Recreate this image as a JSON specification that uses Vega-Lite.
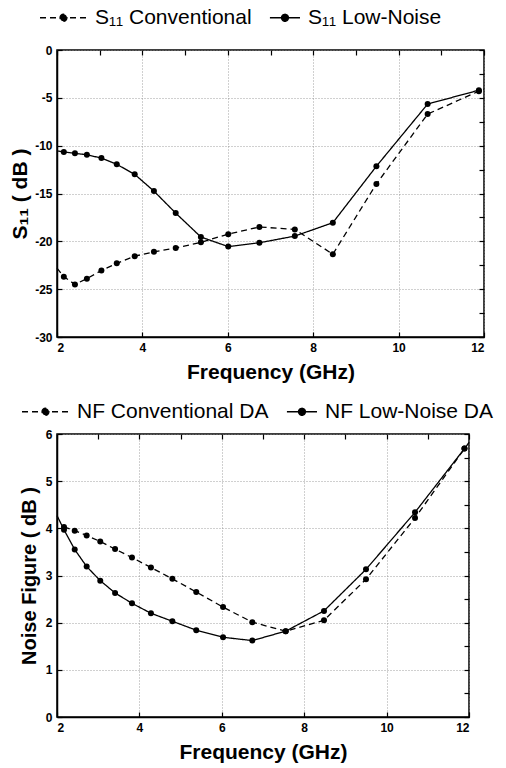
{
  "$schema": "https://vega.github.io/schema/vega-lite/v6.json",
  "background": "white",
  "padding": {"left": 8, "top": 6, "right": 5, "bottom": 5},
  "spacing": 17,
  "resolve": {"scale": {"strokeDash": "independent"}, "legend": {"strokeDash": "independent"}},
  "config": {
    "font": "Liberation Sans",
    "view": {"stroke": "black", "strokeWidth": 1.5},
    "axis": {
      "labelFont": "Liberation Sans", "labelFontWeight": "bold", "labelFontSize": 12, "labelColor": "black",
      "titleFont": "Liberation Sans", "titleFontWeight": "bold", "titleFontSize": 21, "titleColor": "black",
      "domainColor": "black", "domainWidth": 1.5, "tickColor": "black", "tickWidth": 1.2, "tickSize": -5,
      "labelPadding": 10, "gridColor": "#888888", "gridDash": [1, 2], "gridWidth": 0.8
    },
    "legend": {
      "orient": "none", "direction": "horizontal", "title": null,
      "labelFont": "Liberation Sans", "labelFontSize": 20, "labelColor": "black", "labelLimit": 400,
      "symbolType": "M-2.5,0L2.5,0M-0.37,0A0.37,0.37,0,1,1,0.37,0A0.37,0.37,0,1,1,-0.37,0Z",
      "symbolSize": 353, "symbolStrokeWidth": 1.3, "symbolStrokeColor": "black", "symbolFillColor": "black",
      "columnPadding": 10, "labelOffset": 21
    }
  },
  "vconcat": [
    {
      "width": 427, "height": 287,
      "data": {"values": [
        {"f": 2.0, "v": -22.8, "series": "S₁₁ Conventional"},
        {"f": 2.16, "v": -23.7, "series": "S₁₁ Conventional"},
        {"f": 2.42, "v": -24.5, "series": "S₁₁ Conventional"},
        {"f": 2.70, "v": -23.9, "series": "S₁₁ Conventional"},
        {"f": 3.04, "v": -23.05, "series": "S₁₁ Conventional"},
        {"f": 3.40, "v": -22.3, "series": "S₁₁ Conventional"},
        {"f": 3.82, "v": -21.55, "series": "S₁₁ Conventional"},
        {"f": 4.27, "v": -21.1, "series": "S₁₁ Conventional"},
        {"f": 4.78, "v": -20.7, "series": "S₁₁ Conventional"},
        {"f": 5.37, "v": -20.1, "series": "S₁₁ Conventional"},
        {"f": 6.01, "v": -19.25, "series": "S₁₁ Conventional"},
        {"f": 6.74, "v": -18.5, "series": "S₁₁ Conventional"},
        {"f": 7.57, "v": -18.75, "series": "S₁₁ Conventional"},
        {"f": 8.46, "v": -21.35, "series": "S₁₁ Conventional"},
        {"f": 9.48, "v": -14.0, "series": "S₁₁ Conventional"},
        {"f": 10.68, "v": -6.7, "series": "S₁₁ Conventional"},
        {"f": 11.88, "v": -4.3, "series": "S₁₁ Conventional"},
        {"f": 12.0, "v": -4.1, "series": "S₁₁ Conventional"},
        {"f": 2.0, "v": -10.55, "series": "S₁₁ Low-Noise"},
        {"f": 2.16, "v": -10.65, "series": "S₁₁ Low-Noise"},
        {"f": 2.42, "v": -10.8, "series": "S₁₁ Low-Noise"},
        {"f": 2.70, "v": -10.95, "series": "S₁₁ Low-Noise"},
        {"f": 3.04, "v": -11.3, "series": "S₁₁ Low-Noise"},
        {"f": 3.40, "v": -11.95, "series": "S₁₁ Low-Noise"},
        {"f": 3.82, "v": -13.0, "series": "S₁₁ Low-Noise"},
        {"f": 4.27, "v": -14.75, "series": "S₁₁ Low-Noise"},
        {"f": 4.78, "v": -17.05, "series": "S₁₁ Low-Noise"},
        {"f": 5.37, "v": -19.55, "series": "S₁₁ Low-Noise"},
        {"f": 6.01, "v": -20.55, "series": "S₁₁ Low-Noise"},
        {"f": 6.74, "v": -20.15, "series": "S₁₁ Low-Noise"},
        {"f": 7.57, "v": -19.45, "series": "S₁₁ Low-Noise"},
        {"f": 8.46, "v": -18.05, "series": "S₁₁ Low-Noise"},
        {"f": 9.48, "v": -12.15, "series": "S₁₁ Low-Noise"},
        {"f": 10.68, "v": -5.65, "series": "S₁₁ Low-Noise"},
        {"f": 11.88, "v": -4.2, "series": "S₁₁ Low-Noise"}
      ]},
      "layer": [
        {
          "mark": {"type": "line", "color": "black", "strokeWidth": 1.3},
          "encoding": {
            "x": {"field": "f", "type": "quantitative", "scale": {"domain": [2, 12], "nice": false},
                  "axis": {"title": "Frequency (GHz)", "values": [2, 4, 6, 8, 10, 12], "grid": true, "titlePadding": 8}},
            "y": {"field": "v", "type": "quantitative", "scale": {"domain": [-30, 0], "nice": false},
                  "axis": {"title": "S₁₁ ( dB )", "values": [-30, -25, -20, -15, -10, -5, 0], "grid": true, "labelExpr": "toString(datum.value)", "titlePadding": 4}},
            "strokeDash": {"field": "series", "type": "nominal",
                  "scale": {"domain": ["S₁₁ Conventional", "S₁₁ Low-Noise"], "range": [[6, 4], [1, 0]]},
                  "legend": {"legendX": -4, "legendY": -43, "labelFontSize": 21, "columnPadding": 14,
                    "encode": {"symbols": {"update": {"fill": {"value": "black"}, "stroke": {"value": "black"},
                      "shape": [{"test": "datum.value === 'S₁₁ Low-Noise'", "value": "M-0.7,0L2.5,0M0.53,0A0.37,0.37,0,1,1,1.27,0A0.37,0.37,0,1,1,0.53,0Z"},
                                {"value": "M-2.5,0L2.5,0M-0.37,0A0.37,0.37,0,1,1,0.37,0A0.37,0.37,0,1,1,-0.37,0Z"}]}}}}}
          }
        },
        {
          "transform": [{"filter": "datum.f > 2.05 && datum.f < 11.95"}],
          "mark": {"type": "point", "filled": true, "color": "black", "size": 36, "opacity": 1},
          "encoding": {
            "x": {"field": "f", "type": "quantitative",
                  "axis": {"orient": "top", "labels": false, "title": null, "grid": false, "domain": false, "values": [2, 3, 4, 5, 6, 7, 8, 9, 10, 11, 12]}},
            "y": {"field": "v", "type": "quantitative",
                  "axis": {"orient": "right", "labels": false, "title": null, "grid": false, "domain": false, "values": [-30, -27.5, -25, -22.5, -20, -17.5, -15, -12.5, -10, -7.5, -5, -2.5, 0]}}
          }
        }
      ],
      "resolve": {"axis": {"x": "independent", "y": "independent"}}
    },
    {
      "width": 412, "height": 283,
      "data": {"values": [
        {"f": 2.17, "v": 4.03, "series": "NF Conventional DA"},
        {"f": 2.43, "v": 3.95, "series": "NF Conventional DA"},
        {"f": 2.72, "v": 3.85, "series": "NF Conventional DA"},
        {"f": 3.05, "v": 3.72, "series": "NF Conventional DA"},
        {"f": 3.41, "v": 3.56, "series": "NF Conventional DA"},
        {"f": 3.82, "v": 3.38, "series": "NF Conventional DA"},
        {"f": 4.28, "v": 3.17, "series": "NF Conventional DA"},
        {"f": 4.80, "v": 2.93, "series": "NF Conventional DA"},
        {"f": 5.38, "v": 2.65, "series": "NF Conventional DA"},
        {"f": 6.03, "v": 2.33, "series": "NF Conventional DA"},
        {"f": 6.74, "v": 2.01, "series": "NF Conventional DA"},
        {"f": 7.55, "v": 1.82, "series": "NF Conventional DA"},
        {"f": 8.48, "v": 2.05, "series": "NF Conventional DA"},
        {"f": 9.50, "v": 2.92, "series": "NF Conventional DA"},
        {"f": 10.69, "v": 4.22, "series": "NF Conventional DA"},
        {"f": 11.89, "v": 5.69, "series": "NF Conventional DA"},
        {"f": 12.0, "v": 5.82, "series": "NF Conventional DA"},
        {"f": 2.0, "v": 4.27, "series": "NF Low-Noise DA"},
        {"f": 2.17, "v": 3.97, "series": "NF Low-Noise DA"},
        {"f": 2.43, "v": 3.55, "series": "NF Low-Noise DA"},
        {"f": 2.72, "v": 3.19, "series": "NF Low-Noise DA"},
        {"f": 3.05, "v": 2.89, "series": "NF Low-Noise DA"},
        {"f": 3.41, "v": 2.63, "series": "NF Low-Noise DA"},
        {"f": 3.82, "v": 2.41, "series": "NF Low-Noise DA"},
        {"f": 4.28, "v": 2.20, "series": "NF Low-Noise DA"},
        {"f": 4.80, "v": 2.03, "series": "NF Low-Noise DA"},
        {"f": 5.38, "v": 1.84, "series": "NF Low-Noise DA"},
        {"f": 6.03, "v": 1.69, "series": "NF Low-Noise DA"},
        {"f": 6.74, "v": 1.62, "series": "NF Low-Noise DA"},
        {"f": 7.55, "v": 1.82, "series": "NF Low-Noise DA"},
        {"f": 8.48, "v": 2.25, "series": "NF Low-Noise DA"},
        {"f": 9.50, "v": 3.13, "series": "NF Low-Noise DA"},
        {"f": 10.69, "v": 4.34, "series": "NF Low-Noise DA"},
        {"f": 11.89, "v": 5.69, "series": "NF Low-Noise DA"}
      ]},
      "layer": [
        {
          "mark": {"type": "line", "color": "black", "strokeWidth": 1.3},
          "encoding": {
            "x": {"field": "f", "type": "quantitative", "scale": {"domain": [2, 12], "nice": false},
                  "axis": {"title": "Frequency (GHz)", "values": [2, 4, 6, 8, 10, 12], "grid": true, "titlePadding": 8}},
            "y": {"field": "v", "type": "quantitative", "scale": {"domain": [0, 6], "nice": false},
                  "axis": {"title": "Noise Figure ( dB )", "titleFontSize": 20, "values": [0, 1, 2, 3, 4, 5, 6], "grid": true, "titlePadding": 6}},
            "strokeDash": {"field": "series", "type": "nominal",
                  "scale": {"domain": ["NF Conventional DA", "NF Low-Noise DA"], "range": [[6, 4], [1, 0]]},
                  "legend": {"legendX": -22, "legendY": -33, "labelFontSize": 21, "columnPadding": 14,
                    "encode": {"symbols": {"update": {"fill": {"value": "black"}, "stroke": {"value": "black"},
                      "shape": [{"test": "datum.value === 'NF Low-Noise DA'", "value": "M-0.7,0L2.5,0M0.53,0A0.37,0.37,0,1,1,1.27,0A0.37,0.37,0,1,1,0.53,0Z"},
                                {"value": "M-2.5,0L2.5,0M-0.37,0A0.37,0.37,0,1,1,0.37,0A0.37,0.37,0,1,1,-0.37,0Z"}]}}}}}
          }
        },
        {
          "transform": [{"filter": "datum.f > 2.05 && datum.f < 11.95"}],
          "mark": {"type": "point", "filled": true, "color": "black", "size": 36, "opacity": 1},
          "encoding": {
            "x": {"field": "f", "type": "quantitative",
                  "axis": {"orient": "top", "labels": false, "title": null, "grid": false, "domain": false, "values": [2, 3, 4, 5, 6, 7, 8, 9, 10, 11, 12]}},
            "y": {"field": "v", "type": "quantitative",
                  "axis": {"orient": "right", "labels": false, "title": null, "grid": false, "domain": false, "values": [0, 0.5, 1, 1.5, 2, 2.5, 3, 3.5, 4, 4.5, 5, 5.5, 6]}}
          }
        }
      ],
      "resolve": {"axis": {"x": "independent", "y": "independent"}}
    }
  ]
}
